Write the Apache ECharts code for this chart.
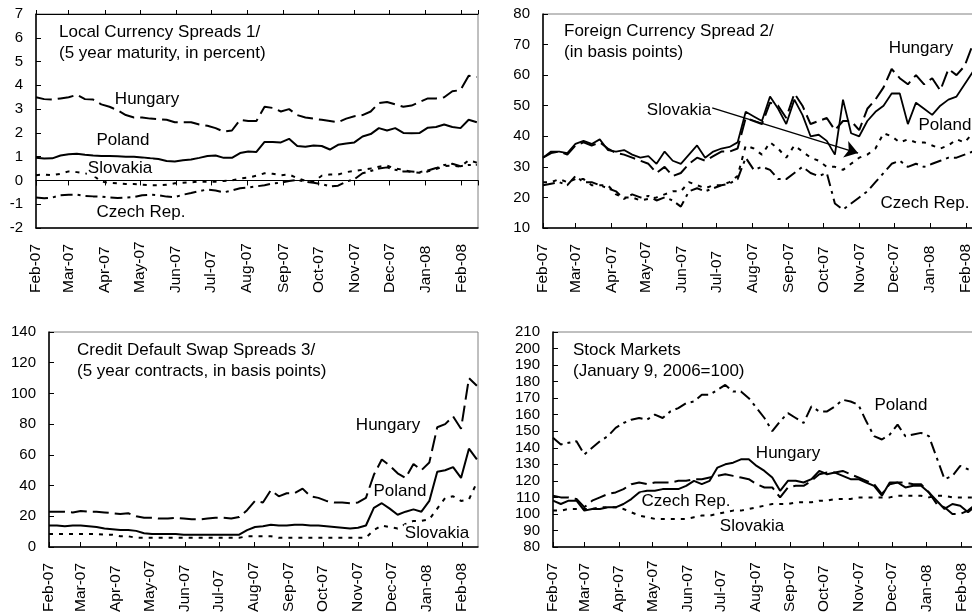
<!DOCTYPE html>
<html>
<head>
<meta charset="utf-8">
<title>Spreads and stock markets</title>
<script src="https://cdn.jsdelivr.net/npm/echarts@6/dist/echarts.min.js"></script>
<style>
  html, body { margin: 0; padding: 0; background: #fff; }
  #main { width: 972px; height: 616px; }
</style>
</head>
<body>
<div id="main"></div>
<script>
// weekly observation dates shared by all four panels
var dates = [
  '2007-02-01', '2007-02-08', '2007-02-15', '2007-02-22', '2007-03-01', '2007-03-08', '2007-03-15',
  '2007-03-22', '2007-03-29', '2007-04-05', '2007-04-12', '2007-04-19', '2007-04-26', '2007-05-03',
  '2007-05-10', '2007-05-17', '2007-05-24', '2007-05-31', '2007-06-07', '2007-06-14', '2007-06-21',
  '2007-06-28', '2007-07-05', '2007-07-12', '2007-07-19', '2007-07-26', '2007-08-02', '2007-08-09',
  '2007-08-16', '2007-08-23', '2007-08-30', '2007-09-06', '2007-09-13', '2007-09-20', '2007-09-27',
  '2007-10-04', '2007-10-11', '2007-10-18', '2007-10-25', '2007-11-01', '2007-11-08', '2007-11-15',
  '2007-11-22', '2007-11-29', '2007-12-06', '2007-12-13', '2007-12-20', '2007-12-27', '2008-01-03',
  '2008-01-10', '2008-01-17', '2008-01-24', '2008-01-31', '2008-02-07', '2008-02-14'
]
var monthNames = ['Jan', 'Feb', 'Mar', 'Apr', 'May', 'Jun', 'Jul', 'Aug', 'Sep', 'Oct', 'Nov', 'Dec']

// Local Currency Spreads (percent)
var lcHungary = [3.5, 3.42, 3.4, 3.45, 3.5, 3.6, 3.42, 3.4, 3.2, 3.1, 2.95, 2.75, 2.65, 2.65, 2.6, 2.58, 2.55, 2.45, 2.45, 2.45,
  2.35, 2.3, 2.2, 2.05, 2.1, 2.55, 2.5, 2.5, 3.1, 3.05, 2.9, 3.0, 2.75, 2.65, 2.6, 2.55, 2.5, 2.45, 2.6, 2.7,
  2.75, 2.9, 3.25, 3.3, 3.2, 3.1, 3.15, 3.3, 3.45, 3.45, 3.5, 3.75, 3.8, 4.4, 4.35]
var lcPoland = [0.95, 0.92, 0.93, 1.05, 1.1, 1.12, 1.08, 1.05, 1.03, 1.03, 1.02, 1.0, 1.0, 0.97, 0.93, 0.9, 0.82, 0.8, 0.85, 0.88,
  0.95, 1.03, 1.05, 0.95, 0.95, 1.15, 1.22, 1.2, 1.62, 1.62, 1.6, 1.75, 1.45, 1.42, 1.47, 1.45, 1.3, 1.5, 1.55, 1.6,
  1.85, 1.95, 2.2, 2.1, 2.2, 2.0, 1.98, 2.0, 2.22, 2.25, 2.35, 2.25, 2.2, 2.55, 2.45]
var lcSlovakia = [0.22, 0.25, 0.22, 0.28, 0.38, 0.35, 0.3, 0.22, -0.05, -0.1, -0.12, -0.15, -0.15, -0.18, -0.2, -0.2, -0.18, -0.12, -0.1, -0.08,
  -0.05, -0.05, -0.05, -0.02, 0.0, 0.08, 0.12, 0.2, 0.3, 0.28, 0.22, 0.25, 0.1, -0.02, -0.05, 0.2, 0.25, 0.25, 0.35, 0.4,
  0.45, 0.5, 0.58, 0.62, 0.5, 0.45, 0.35, 0.32, 0.38, 0.48, 0.6, 0.62, 0.58, 0.85, 0.75]
var lcCzech = [-0.72, -0.75, -0.72, -0.62, -0.6, -0.6, -0.65, -0.67, -0.68, -0.72, -0.74, -0.72, -0.7, -0.62, -0.6, -0.62, -0.68, -0.7, -0.6, -0.53,
  -0.45, -0.38, -0.42, -0.5, -0.42, -0.33, -0.3, -0.25, -0.2, -0.12, -0.1, -0.02, 0.02, -0.05, -0.1, -0.15, -0.25, -0.22, -0.05, 0.05,
  0.3, 0.4, 0.5, 0.55, 0.45, 0.38, 0.38, 0.35, 0.42, 0.52, 0.65, 0.7, 0.6, 0.65, 0.66]

// Foreign Currency Spread (basis points)
var fcHungary = [33, 34.5, 35, 34, 37, 38, 37, 38, 36, 34.5, 34, 33, 32, 31, 28, 30, 27, 28, 31, 33,
  32, 33.5, 35, 35, 36, 46, 45, 44, 51, 50, 46, 54, 50, 44, 45, 46, 42, 45, 45, 42,
  49, 52, 56, 62, 59, 57, 60, 57, 59, 55, 62, 60, 63, 70, 70]
var fcPoland = [33, 35, 35, 34.5, 37.5, 38.5, 37.5, 39, 35.5, 35, 35.5, 34, 33, 33.5, 31, 35, 32, 31, 34, 37,
  33, 35, 36, 36.5, 38, 48, 46.5, 45, 53, 49, 44, 52, 47, 40, 40.5, 38.5, 34, 52, 41, 40,
  45, 48, 50, 54, 54, 44, 51, 49, 47, 50, 52, 53, 57, 61, 62]
var fcSlovakia = [25, 25, 26, 25, 26, 26, 24, 24, 24, 21, 20, 20, 19, 19.5, 20, 21, 22, 22, 25, 24,
  23, 24, 24, 25, 27, 37, 36, 34, 38, 36, 33, 37, 35, 33, 32, 30, 30, 29, 31, 33,
  34, 36, 41, 40, 38, 39, 38, 38, 37, 36, 37, 39, 38, 41, 40]
var fcCzech = [24, 24.5, 25, 24, 27, 25, 25, 24, 23, 22, 19.5, 21, 20, 20.5, 19, 20, 19, 17, 22, 23,
  22, 23, 24, 24.5, 26, 33, 29, 30, 29, 26, 26, 28, 30, 28, 27, 28, 18, 16, 18, 20,
  22, 25, 28, 31, 32, 30, 31, 30, 31, 32, 33, 33, 34, 35, 35]
// arrow from the "Slovakia" label to its line
var arrowFrom = ['2007-06-27', 49.3]
var arrowTo = ['2007-10-31', 34.5]

// Credit Default Swap Spreads (basis points)
var cdsHungary = [23, 23, 23, 22.5, 23.5, 23, 23, 22.5, 22, 21.5, 22, 20, 19, 19, 18.5, 18.5, 19, 18.5, 18, 18,
  18.5, 19, 19, 18.5, 19.5, 24, 30, 29, 37, 33, 35, 35, 38, 33, 32, 30, 29, 29, 28.5, 29,
  32, 47, 57, 53, 48, 45, 54, 50, 55, 78, 80, 85, 77, 110, 105]
var cdsPoland = [14, 14, 13.5, 14, 14, 13.5, 13, 12, 11.5, 11, 11, 10.5, 9, 8.5, 8.5, 8.5, 8.5, 8, 8, 8,
  8, 8, 8, 8, 8, 11, 13, 13.5, 14.5, 14, 14, 14.5, 14.5, 14, 14, 13.5, 13, 12.5, 12, 12.5,
  14, 25.5, 28.5, 25, 21, 23, 24.5, 23, 30, 49, 50, 52, 45, 64, 57]
var cdsSlovakia = [8.5, 8.5, 8.5, 8.5, 8.5, 8.5, 8.5, 8, 8, 7, 7, 6, 6, 6, 6, 6, 6, 6, 6, 6,
  6, 6, 6, 6, 6, 7, 7, 7, 7, 6, 6, 6, 6, 6, 6, 6, 6, 6, 6, 6,
  6, 11, 14, 13, 12, 15, 17, 17, 18, 25, 32, 33, 30, 31, 42]

// Stock Markets (January 9, 2006 = 100)
var smPoland = [146, 142, 143, 144, 136, 140, 144, 147, 152, 155, 157, 158, 157, 160, 158, 162, 164, 167, 168, 172,
  172, 175, 178, 174, 174, 170, 164, 158, 150, 156, 161, 158, 155, 165, 162, 162, 165, 169, 168, 166,
  156, 147, 145, 148, 154, 147, 148, 149, 147, 134, 121, 123, 129, 127, 127]
var smHungary = [108, 106, 108, 108, 102, 103, 103, 104, 104, 106, 109, 113, 114, 114, 115, 115, 115, 117, 120, 118,
  120, 128, 130, 131, 133, 133, 129, 126, 122, 114, 120, 120, 119, 121, 126, 124, 125, 123, 121, 121,
  119, 117, 111, 119, 119, 116, 117, 117, 113, 108, 103, 106, 105, 101, 105]
var smCzech = [111, 110, 110, 109, 104, 108, 110, 112, 113, 115, 118, 119, 118, 119, 119, 119, 120, 120, 121, 121,
  122, 123, 124, 123, 122, 121, 118, 116, 116, 110, 116, 117, 117, 120, 124, 125, 125, 126, 124, 122,
  120, 118, 112, 118, 119, 119, 118, 118, 113, 106, 104, 100, 100, 102, 106]
var smSlovakia = [102, 102, 103, 103, 103, 103, 104, 104, 104, 103, 101, 99, 98, 97, 97, 97, 97, 97, 98, 99,
  99, 100, 101, 102, 102, 103, 104, 105, 106, 106, 106, 107, 107, 107, 108, 108, 109, 109, 109, 110,
  110, 110, 110, 110, 111, 111, 111, 111, 110, 111, 111, 110, 110, 110, 110]

var FONT = '"Liberation Sans", Arial, sans-serif'
var SOLID = 'solid'
var DASH = [16, 6]
var DOT = [4, 6]
var DASHDOT = [12, 5, 3, 5]
var xMin = +new Date(2007, 1, 1)
var xMax = +new Date(2008, 1, 15)

function monthLabel(v) {
  var d = new Date(v)
  return monthNames[d.getMonth()] + '-' + String(d.getFullYear()).slice(2)
}

function timeAxis(grid, opts) {
  opts = opts || {}
  return {
    type: 'time',
    gridIndex: grid,
    position: opts.position || 'bottom',
    min: xMin,
    max: xMax,
    splitNumber: 12,
    minInterval: 28 * 86400000,
    maxInterval: 31 * 86400000,
    axisLine: { onZero: !!opts.onZero, lineStyle: { color: '#000', width: opts.onZero ? 1 : 1.5 } },
    axisTick: { show: opts.ticks !== false, inside: opts.inside !== false, length: opts.tickLen || 5, lineStyle: { color: '#000', width: 1 } },
    axisLabel: {
      show: opts.labels !== false, rotate: 90, align: 'left', verticalAlign: 'middle', margin: 65,
      formatter: monthLabel, color: '#000', fontSize: 15.5, fontFamily: FONT, hideOverlap: false
    },
    splitLine: { show: false }
  }
}

function valueAxis(grid, min, max, interval) {
  return {
    type: 'value', gridIndex: grid, min: min, max: max, interval: interval,
    axisLine: { show: true, onZero: false, lineStyle: { color: '#000', width: 1.5 } },
    axisTick: { show: true, inside: true, length: 5, lineStyle: { color: '#000' } },
    axisLabel: { color: '#000', fontSize: 15, margin: 13, fontFamily: FONT },
    splitLine: { show: false }
  }
}

function line(name, values, dash, xi, yi, width) {
  return {
    name: name, type: 'line', xAxisIndex: xi, yAxisIndex: yi,
    data: dates.map(function(d, i) { return [d, values[i]] }),
    showSymbol: false, symbol: 'none', silent: true,
    lineStyle: { color: '#000', width: width || 2, type: dash, cap: 'butt' }
  }
}

function gridBox(left, right, top, bottom) {
  return {
    left: left, right: right, top: top, bottom: bottom,
    show: true, borderColor: '#808080', borderWidth: 1,
    containLabel: false, outerBoundsMode: 'none'
  }
}

// text annotations: [text, x, y, align]
var labels = [
  ['Local Currency Spreads 1/', 59, 32, 'left'],
  ['(5 year maturity, in percent)', 59, 53, 'left'],
  ['Hungary', 147, 99], ['Poland', 123, 140], ['Slovakia', 120, 168], ['Czech Rep.', 141, 212],
  ['Foreign Currency Spread 2/', 564, 31, 'left'],
  ['(in basis points)', 564, 52, 'left'],
  ['Hungary', 921, 48], ['Poland', 945, 125], ['Czech Rep.', 925, 203], ['Slovakia', 679, 110],
  ['Credit Default Swap Spreads 3/', 77, 350, 'left'],
  ['(5 year contracts, in basis points)', 77, 371, 'left'],
  ['Hungary', 388, 425], ['Poland', 400, 491], ['Slovakia', 437, 533],
  ['Stock Markets', 573, 350, 'left'],
  ['(January 9, 2006=100)', 573, 371, 'left'],
  ['Poland', 901, 405], ['Hungary', 788, 453], ['Czech Rep.', 686, 501], ['Slovakia', 752, 526]
]

var slovakiaFc = line('Slovakia', fcSlovakia, DOT, 1, 1, 2)
slovakiaFc.markLine = {
  silent: true, symbol: ['none', 'arrow'], symbolSize: 13,
  lineStyle: { color: '#000', width: 1.5, type: 'solid' },
  label: { show: false },
  data: [[{ coord: arrowFrom }, { coord: arrowTo }]]
}

var myChart = echarts.init(document.getElementById('main'))
var option = {
  animation: false,
  backgroundColor: '#fff',
  grid: [
    gridBox(36, 494, 14, 388),
    gridBox(543, -10, 14, 388),
    gridBox(49, 494, 332, 69),
    gridBox(553, -5, 332, 69)
  ],
  xAxis: [
    timeAxis(0, { ticks: false }),
    timeAxis(1, {}),
    timeAxis(2, {}),
    timeAxis(3, {}),
    // zero line of the first panel with crossing ticks
    timeAxis(0, { onZero: true, labels: false, inside: false, tickLen: 5 }),
    timeAxis(0, { onZero: true, labels: false, inside: false, tickLen: 4, position: 'top' })
  ],
  yAxis: [
    valueAxis(0, -2, 7, 1),
    valueAxis(1, 10, 80, 10),
    valueAxis(2, 0, 140, 20),
    valueAxis(3, 80, 210, 10)
  ],
  series: [
    line('Hungary', lcHungary, DASH, 0, 0),
    line('Poland', lcPoland, SOLID, 0, 0),
    line('Slovakia', lcSlovakia, DOT, 0, 0),
    line('Czech Rep.', lcCzech, DASHDOT, 0, 0),

    line('Czech Rep.', fcCzech, DASHDOT, 1, 1),
    slovakiaFc,
    line('Hungary', fcHungary, DASH, 1, 1),
    line('Poland', fcPoland, SOLID, 1, 1, 1.8),

    line('Slovakia', cdsSlovakia, DOT, 2, 2),
    line('Hungary', cdsHungary, DASH, 2, 2),
    line('Poland', cdsPoland, SOLID, 2, 2),

    line('Slovakia', smSlovakia, DOT, 3, 3),
    line('Poland', smPoland, DASHDOT, 3, 3),
    line('Czech Rep.', smCzech, DASH, 3, 3),
    line('Hungary', smHungary, SOLID, 3, 3)
  ],
  graphic: labels.map(function(l) {
    var inPlot = l[3] !== 'left'
    return {
      type: 'text', x: l[1], y: l[2], z: 100, silent: true,
      style: {
        text: l[0], font: '17px ' + FONT, fill: '#000',
        align: l[3] || 'center', verticalAlign: 'middle',
        backgroundColor: inPlot ? '#fff' : null, padding: inPlot ? [0, 1] : 0
      }
    }
  })
}
myChart.setOption(option)
</script>
</body>
</html>
